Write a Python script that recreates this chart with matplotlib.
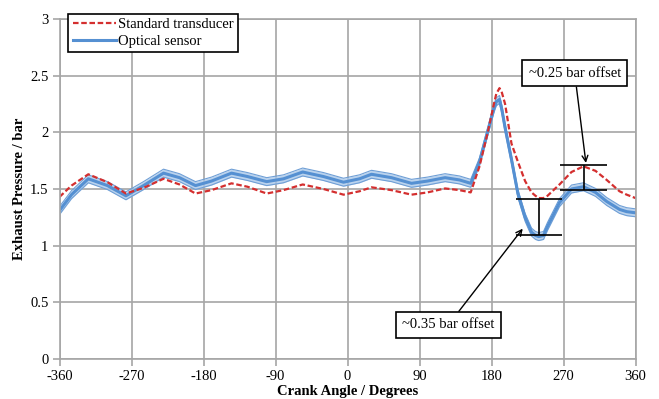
import matplotlib.pyplot as plt

plt.rcParams['font.family'] = ['Liberation Serif', 'DejaVu Serif']
plt.rcParams['font.size'] = 10.5
plt.rcParams['axes.unicode_minus'] = False

# Angle vilebrequin (degrés)
crank_angle = [-360, -345, -324, -300, -277, -255, -230, -210, -190, -170, -145, -125,
               -101, -80, -56, -30, -5, 15, 30, 55, 80, 100, 122, 140, 154, 165, 175,
               183, 186, 190, 193, 197, 205, 213, 222, 230, 235, 239, 245, 250, 265,
               280, 295, 310, 324, 340, 349, 360]

# Pression mesurée par le capteur standard (bar)
standard = [1.43, 1.53, 1.63, 1.56, 1.46, 1.51, 1.59, 1.54, 1.46, 1.49, 1.55, 1.52,
            1.46, 1.49, 1.54, 1.50, 1.45, 1.48, 1.515, 1.49, 1.45, 1.47, 1.505, 1.49,
            1.47, 1.70, 1.99, 2.25, 2.34, 2.39, 2.35, 2.25, 1.90, 1.74, 1.57, 1.47,
            1.44, 1.42, 1.42, 1.44, 1.54, 1.65, 1.70, 1.66, 1.58, 1.48, 1.45, 1.42]

# Pression mesurée par le capteur optique (bar)
optical = [1.31, 1.45, 1.59, 1.53, 1.44, 1.53, 1.64, 1.60, 1.53, 1.57, 1.64, 1.61,
           1.565, 1.59, 1.65, 1.61, 1.56, 1.59, 1.63, 1.60, 1.55, 1.57, 1.60, 1.58,
           1.55, 1.74, 2.00, 2.21, 2.27, 2.29, 2.20, 2.04, 1.76, 1.46, 1.25, 1.12,
           1.09, 1.08, 1.09, 1.17, 1.38, 1.50, 1.52, 1.47, 1.39, 1.32, 1.30, 1.29]
spread = 0.035  # dispersion entre les cycles du capteur optique

# Repères d'offset
offset_x = [239, 295]
offset_low = [1.09, 1.49]
offset_high = [1.41, 1.71]
cap_half = 29

x_ticks = [-360, -270, -180, -90, 0, 90, 180, 270, 360]
y_ticks = [0, 0.5, 1, 1.5, 2, 2.5, 3]

fig = plt.figure(figsize=(6.59, 3.99), dpi=100)
ax = fig.add_axes([59.5 / 659, 40 / 399, 576 / 659, 340 / 399])

grey = '#a6a6a6'
ax.set_xlim(-360, 360)
ax.set_ylim(0, 3)
ax.set_xticks(x_ticks)
ax.set_yticks(y_ticks)
ax.set_yticklabels(['0', '0.5', '1', '1.5', '2', '2.5', '3'])
ax.grid(True, color=grey, linewidth=1.2)
ax.set_axisbelow(True)
for side in ['left', 'bottom', 'top', 'right']:
    ax.spines[side].set_color(grey)
    ax.spines[side].set_linewidth(1.2)
ax.tick_params(color=grey, width=1.2, length=5, labelsize=10.5, pad=3)

# Capteur optique : bande + courbe centrale
lower = [v - spread for v in optical]
upper = [v + spread for v in optical]
ax.fill_between(crank_angle, lower, upper, color='#a9c8ea', alpha=0.8, linewidth=0)
ax.plot(crank_angle, lower, color='#6f9fd6', linewidth=0.8)
ax.plot(crank_angle, upper, color='#6f9fd6', linewidth=0.8)
ax.plot(crank_angle, optical, color='#5590d2', linewidth=2.2, label='Optical sensor')

# Capteur standard
ax.plot(crank_angle, standard, color='#d42f2f', linewidth=1.6, linestyle=(0, (2.5, 1.2)),
        label='Standard transducer')

# Barres d'offset
for xc, lo, hi in zip(offset_x, offset_low, offset_high):
    ax.vlines(xc, lo, hi, color='black', linewidth=1.2)
    ax.hlines([lo, hi], xc - cap_half, xc + cap_half, color='black', linewidth=1.2)

box = dict(boxstyle='square,pad=0.45', facecolor='white', edgecolor='black', linewidth=1.2)
arrow = dict(arrowstyle='->', color='black', linewidth=1, shrinkA=0, shrinkB=0)
ax.annotate('~0.25 bar offset', xy=(298, 1.73), xytext=(284, 2.52), ha='center', va='center',
            fontsize=10.5, bbox=box, arrowprops=arrow)
ax.annotate('~0.35 bar offset', xy=(219, 1.15), xytext=(126, 0.30), ha='center', va='center',
            fontsize=10.5, bbox=box, arrowprops=arrow)

handles, labels = ax.get_legend_handles_labels()
leg = ax.legend(handles[::-1], labels[::-1], loc='upper left', bbox_to_anchor=(0.015, 1.015),
                borderaxespad=0, fancybox=False, framealpha=1, edgecolor='black',
                handlelength=3, handletextpad=0.1, borderpad=0.3, labelspacing=0.2,
                fontsize=10.5)
leg.get_frame().set_linewidth(1.2)

ax.set_xlabel('Crank Angle / Degrees', fontweight='bold', fontsize=10.5, labelpad=1)
ax.set_ylabel('Exhaust Pressure / bar', fontweight='bold', fontsize=10.5, labelpad=3)

fig.savefig('out.png', dpi=100)
